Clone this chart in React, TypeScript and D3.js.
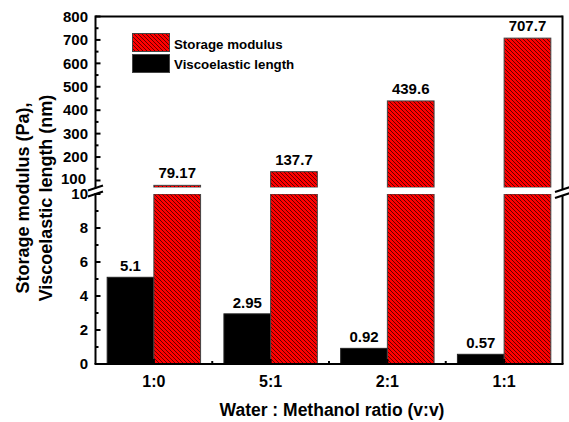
import React from 'react';
import * as d3 from 'd3';

// Data
const categories = ['1:0', '5:1', '2:1', '1:1'];
const storageModulus = [79.17, 137.7, 439.6, 707.7];
const viscoelasticLength = [5.1, 2.95, 0.92, 0.57];
const storageLabels = ['79.17', '137.7', '439.6', '707.7'];
const lengthLabels = ['5.1', '2.95', '0.92', '0.57'];
const lowerTicks = [0, 2, 4, 6, 8, 10];
const lowerMinor = [1, 3, 5, 7, 9];
const upperTicks = [100, 200, 300, 400, 500, 600, 700, 800];
const upperMinor = [150, 250, 350, 450, 550, 650, 750];

const W = 569;
const H = 422;
const left = 95.5;
const right = 562.5;
const top = 16.5;
const bottom = 364;
const breakTop = 187.5;
const breakBottom = 194;

const FONT = 'Arial, "Liberation Sans", Helvetica, sans-serif';

export default function App() {
  const x = d3.scaleBand<string>().domain(categories).range([left, right]).padding(0);
  const bw = x.bandwidth();
  const barW = bw * 0.4;
  const center = (c: string) => (x(c) as number) + bw / 2;

  // Lower segment 0-10, upper segment 70-800 (axis break between)
  const yLow = d3.scaleLinear().domain([0, 10]).range([bottom, breakBottom]);
  const yHigh = d3.scaleLinear().domain([70, 800]).range([breakTop, top]);

  const axisW = 2;
  const tickMajor = 5;
  const tickMinor = 3;

  const breakMark = (xc: number, yc: number, key: string) => (
    <line key={key} x1={xc - 7.5} y1={yc + 2.5} x2={xc + 7.5} y2={yc - 2.5} stroke="#000" strokeWidth={2} />
  );

  return (
    <svg
      width={W}
      height={H}
      style={{ position: 'absolute', left: 0, top: 0, background: '#fff' }}
      fontFamily={FONT}
    >
      <defs>
        <pattern id="hatch" patternUnits="userSpaceOnUse" width={4} height={4}>
          <rect width={4} height={4} fill="#ff0000" />
          <path d="M0,0 L4,4 M-1,3 L1,5 M3,-1 L5,1" stroke="#200000" strokeWidth={0.7} />
        </pattern>
      </defs>
      <rect width={W} height={H} fill="#fff" />

      {/* Bars */}
      {categories.map((c, i) => {
        const cx = center(c);
        const v = viscoelasticLength[i];
        const s = storageModulus[i];
        return (
          <g key={c}>
            <rect
              x={cx - barW}
              y={yLow(v)}
              width={barW}
              height={bottom - yLow(v)}
              fill="#000"
              stroke="#222"
              strokeWidth={1}
            />
            <rect
              x={cx}
              y={yLow(10)}
              width={barW}
              height={bottom - yLow(10)}
              fill="url(#hatch)"
              stroke="#444"
              strokeWidth={1}
            />
            <rect
              x={cx}
              y={yHigh(s)}
              width={barW}
              height={breakTop - yHigh(s)}
              fill="url(#hatch)"
              stroke="#444"
              strokeWidth={1}
            />
            <text
              x={cx - barW / 2}
              y={yLow(v) - 6}
              textAnchor="middle"
              fontSize={15}
              fontWeight="bold"
            >
              {lengthLabels[i]}
            </text>
            <text
              x={cx + barW / 2}
              y={yHigh(s) - 7}
              textAnchor="middle"
              fontSize={15}
              fontWeight="bold"
            >
              {storageLabels[i]}
            </text>
          </g>
        );
      })}

      {/* Break gap across the plot */}
      <rect x={left + 1} y={breakTop} width={right - left - 2} height={breakBottom - breakTop} fill="#fff" />

      {/* Frame */}
      <line x1={left} y1={top} x2={right} y2={top} stroke="#000" strokeWidth={axisW} />
      <line x1={left - 1} y1={bottom} x2={right + 1} y2={bottom} stroke="#000" strokeWidth={axisW} />
      <line x1={left} y1={top - 1} x2={left} y2={breakTop + 1} stroke="#000" strokeWidth={axisW} />
      <line x1={left} y1={breakBottom - 1} x2={left} y2={bottom} stroke="#000" strokeWidth={axisW} />
      <line x1={right} y1={top - 1} x2={right} y2={breakTop + 2} stroke="#000" strokeWidth={axisW} />
      <line x1={right} y1={breakBottom + 1} x2={right} y2={bottom} stroke="#000" strokeWidth={axisW} />
      {breakMark(left, breakTop + 0.5, 'bl1')}
      {breakMark(left, breakBottom, 'bl2')}
      {breakMark(right, breakTop + 2, 'br1')}
      {breakMark(right, breakBottom + 1.5, 'br2')}

      {/* Left axis ticks: lower segment */}
      {lowerTicks.map((t) => (
        <g key={'lt' + t}>
          <line x1={left} x2={left + tickMajor} y1={yLow(t)} y2={yLow(t)} stroke="#000" strokeWidth={2} />
          <text x={88} y={yLow(t) + 5.3} textAnchor="end" fontSize={15} fontWeight="bold">
            {t}
          </text>
        </g>
      ))}
      {lowerMinor.map((t) => (
        <line key={'lm' + t} x1={left} x2={left + tickMinor} y1={yLow(t)} y2={yLow(t)} stroke="#000" strokeWidth={2} />
      ))}
      {/* Left axis ticks: upper segment */}
      {upperTicks.map((t) => (
        <g key={'ut' + t}>
          <line x1={left} x2={left + tickMajor} y1={yHigh(t)} y2={yHigh(t)} stroke="#000" strokeWidth={2} />
          <text x={t === 100 ? 86 : 88} y={yHigh(t) + (t === 100 ? 3.8 : 5.3)} textAnchor="end" fontSize={15} fontWeight="bold">
            {t}
          </text>
        </g>
      ))}
      {upperMinor.map((t) => (
        <line key={'um' + t} x1={left} x2={left + tickMinor} y1={yHigh(t)} y2={yHigh(t)} stroke="#000" strokeWidth={2} />
      ))}

      {/* Bottom axis ticks and labels */}
      {categories.map((c, i) => (
        <g key={'xt' + c}>
          <line x1={center(c)} x2={center(c)} y1={bottom} y2={bottom - tickMajor} stroke="#000" strokeWidth={2} />
          {i > 0 && (
            <line x1={x(c) as number} x2={x(c) as number} y1={bottom} y2={bottom - tickMinor} stroke="#000" strokeWidth={2} />
          )}
          <text x={center(c)} y={387} textAnchor="middle" fontSize={16} fontWeight="bold">
            {c}
          </text>
        </g>
      ))}

      {/* Axis titles */}
      <text x={332} y={416} textAnchor="middle" fontSize={17.5} fontWeight="bold">
        Water : Methanol ratio (v:v)
      </text>
      <g transform="translate(29,198) rotate(-90)">
        <text x={0} y={0} textAnchor="middle" fontSize={18} fontWeight="bold">
          Storage modulus (Pa),
        </text>
      </g>
      <g transform="translate(52,198) rotate(-90)">
        <text x={0} y={0} textAnchor="middle" fontSize={18} fontWeight="bold">
          Viscoelastic length (nm)
        </text>
      </g>

      {/* Legend */}
      <rect x={132.5} y={33.5} width={37} height={18} fill="url(#hatch)" stroke="#444" strokeWidth={1} />
      <rect x={132.5} y={54.5} width={37} height={18} fill="#000" stroke="#444" strokeWidth={1} />
      <text x={174} y={48.5} fontSize={13.3} fontWeight="bold">
        Storage modulus
      </text>
      <text x={174} y={69} fontSize={13.3} fontWeight="bold">
        Viscoelastic length
      </text>
    </svg>
  );
}
